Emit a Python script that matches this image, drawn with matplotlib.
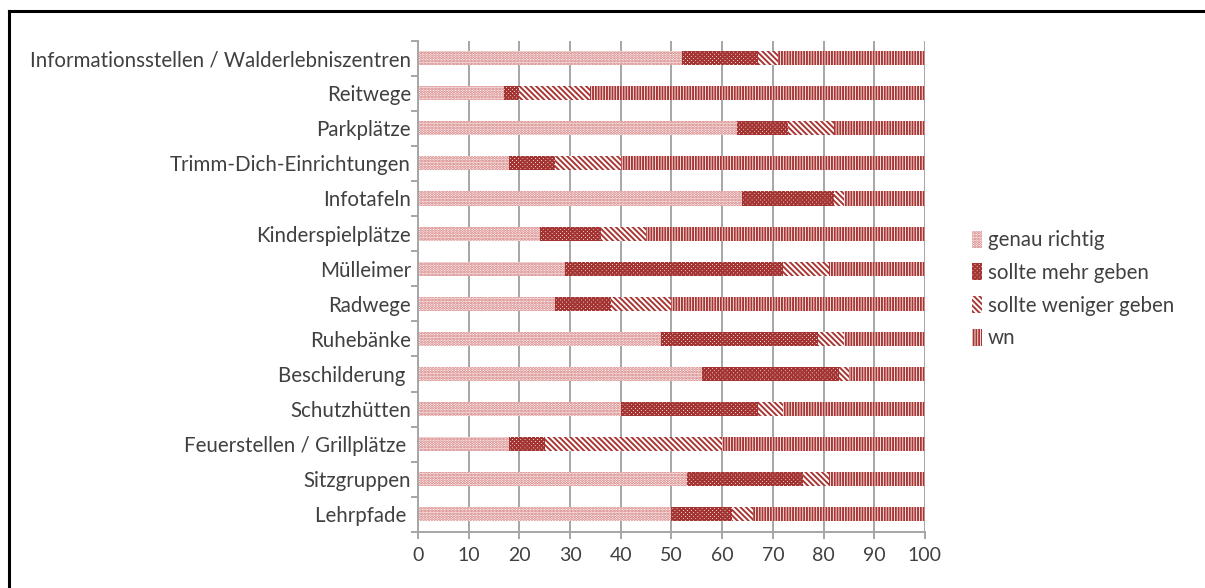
import matplotlib
matplotlib.use("Agg")
import matplotlib.pyplot as plt
from matplotlib.patches import Patch
from matplotlib.lines import Line2D
import numpy as np

plt.rcParams['font.family'] = ['Lato', 'DejaVu Sans']
plt.rcParams['hatch.linewidth'] = 1.4

categories = [
    "Informationsstellen / Walderlebniszentren",
    "Reitwege",
    "Parkplätze",
    "Trimm-Dich-Einrichtungen",
    "Infotafeln",
    "Kinderspielplätze",
    "Mülleimer",
    "Radwege",
    "Ruhebänke",
    "Beschilderung ",
    "Schutzhütten",
    "Feuerstellen / Grillplätze ",
    "Sitzgruppen",
    "Lehrpfade ",
]

genau_richtig = [52, 17, 63, 18, 64, 24, 29, 27, 48, 56, 40, 18, 53, 50]
sollte_mehr = [15, 3, 10, 9, 18, 12, 43, 11, 31, 27, 27, 7, 23, 12]
sollte_weniger = [4, 14, 9, 13, 2, 9, 9, 12, 5, 2, 5, 35, 5, 4]
wn = [100 - a - b - c for a, b, c in zip(genau_richtig, sollte_mehr, sollte_weniger)]

series_names = ["genau richtig", "sollte mehr geben", "sollte weniger geben", "wn"]
series_values = [genau_richtig, sollte_mehr, sollte_weniger, wn]
series_hatch = ["......", "xxxxxxxx", "\\\\\\\\\\\\", "||||||"]
series_color = ["#D06A6A", "#A33432", "#A83634", "#A83634"]

x_ticks = [0, 10, 20, 30, 40, 50, 60, 70, 80, 90, 100]

fig = plt.figure(figsize=(12.05, 5.88), dpi=100)
ax = fig.add_axes([0.3469, 0.0952, 0.4207, 0.8359])

y = np.arange(len(categories))[::-1]
left = np.zeros(len(categories))
for name, vals, hatch, col in zip(series_names, series_values, series_hatch, series_color):
    vals = np.array(vals, dtype=float)
    ax.barh(y, vals, left=left, height=0.4, color="white", edgecolor=col,
            hatch=hatch, linewidth=0, label=name, zorder=2)
    left += vals

ax.set_xlim(0, 100)
ax.set_ylim(-0.5, len(categories) - 0.5)
ax.set_xticks(x_ticks)
ax.set_xticklabels([str(t) for t in x_ticks])
ax.set_yticks(y)
ax.set_yticklabels(categories)
ax.set_yticks(np.arange(-0.5, len(categories), 1), minor=True)

grid_col = "#A6A6A6"
text_col = "#404040"
ax.grid(axis="x", color=grid_col, linewidth=1.4, zorder=0)
ax.set_axisbelow(True)
for s in ["top", "right"]:
    ax.spines[s].set_visible(False)
for s in ["left", "bottom"]:
    ax.spines[s].set_color(grid_col)
    ax.spines[s].set_linewidth(1.4)

ax.tick_params(axis="x", which="major", length=5, width=1.4, color=grid_col,
               labelsize=14, labelcolor=text_col, pad=6)
ax.tick_params(axis="y", which="major", length=0, labelsize=14.8,
               labelcolor=text_col, pad=5)
ax.tick_params(axis="y", which="minor", length=5, width=1.4, color=grid_col)

handles = [Patch(facecolor="white", edgecolor=c, hatch=h, linewidth=0)
           for c, h in zip(series_color, series_hatch)]
fig.legend(handles, series_names, loc="upper left", bbox_to_anchor=(0.791, 0.640),
           frameon=False, fontsize=14.8, handlelength=0.5, handleheight=0.9,
           handletextpad=0.3, labelspacing=0.62, labelcolor=text_col)

# Outer frame around the chart area
fig.add_artist(Line2D([0.0075, 0.0075], [0.0, 0.981], transform=fig.transFigure,
                      color="black", linewidth=2.2))
fig.add_artist(Line2D([0.0075, 1.0], [0.981, 0.981], transform=fig.transFigure,
                      color="black", linewidth=2.2))

fig.savefig("out.png", dpi=100, facecolor="white")
